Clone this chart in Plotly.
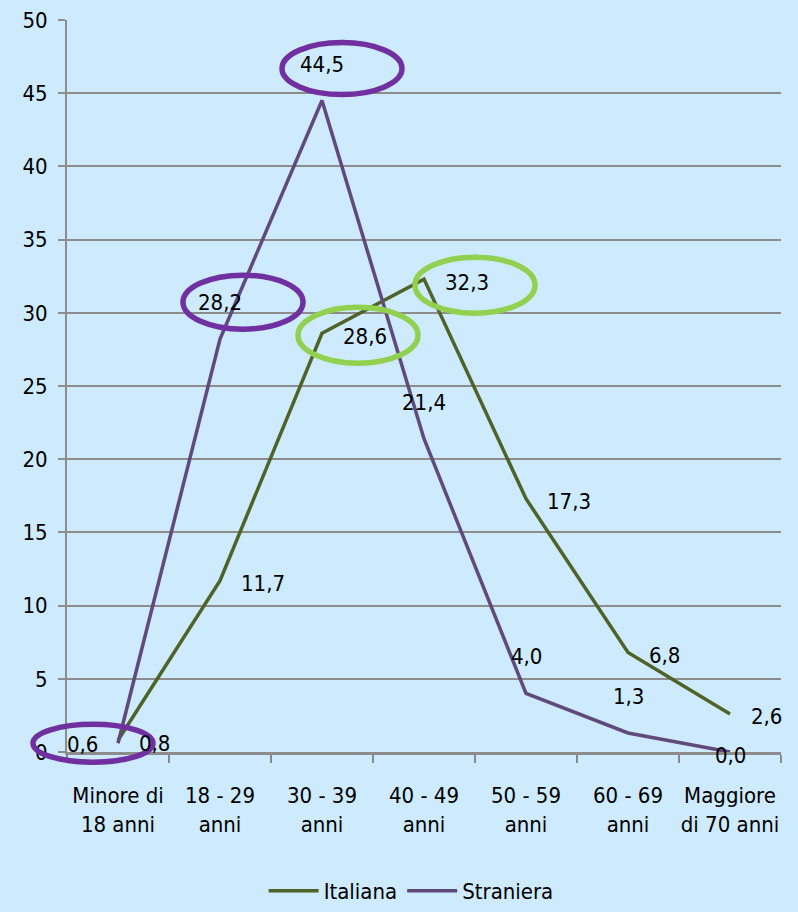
import plotly.graph_objects as go

# Age classes and percentage shares by nationality
categories = ["Minore di<br>18 anni", "18 - 29<br>anni", "30 - 39<br>anni", "40 - 49<br>anni",
              "50 - 59<br>anni", "60 - 69<br>anni", "Maggiore<br>di 70 anni"]
italiana = [0.8, 11.7, 28.6, 32.3, 17.3, 6.8, 2.6]
straniera = [0.6, 28.2, 44.5, 21.4, 4.0, 1.3, 0.0]
y_ticks = [0, 5, 10, 15, 20, 25, 30, 35, 40, 45, 50]
Y_MAX = 50

# Label placement per point
ita_label_pos = ["right"] * 7
str_label_pos = ["left", "top", "top", "top", "top", "top", "center"]

# Highlighted values: (series, index, colour, centre offset in px, half height in px)
highlights = [
    ("straniera", 0, "#7030A0", (-25, 0), 19),
    ("straniera", 1, "#7030A0", (23, 37), 27),
    ("straniera", 2, "#7030A0", (20, 32), 26),
    ("italiana", 2, "#92D050", (36, -2), 28),
    ("italiana", 3, "#92D050", (51, -6), 28),
]

FONT = "DejaVu Sans Condensed, DejaVu Sans, sans-serif"
FS = 22
GREEN = "#4F6228"
PURPLE = "#604A7B"
BG = "#CDEBFC"
GRID = "#8C8C8C"

fig = go.Figure()
fig.add_trace(go.Scatter(x=categories, y=italiana, mode="lines", name="Italiana",
                         line=dict(color=GREEN, width=3.5)))
fig.add_trace(go.Scatter(x=categories, y=straniera, mode="lines", name="Straniera",
                         line=dict(color=PURPLE, width=3.5)))


def fmt(v):
    return f"{v:.1f}".replace(".", ",")


annotations = []
for series, positions in ((italiana, ita_label_pos), (straniera, str_label_pos)):
    for i, (v, pos) in enumerate(zip(series, positions)):
        a = dict(x=i, y=v, xref="x", yref="y", text=fmt(v), showarrow=False,
                 font=dict(family=FONT, size=FS, color="#000000"))
        if pos == "right":
            a.update(xanchor="left", yanchor="middle", xshift=19, yshift=-3)
        elif pos == "left":
            a.update(xanchor="right", yanchor="middle", xshift=-18, yshift=-1)
        elif pos == "top":
            a.update(xanchor="center", yanchor="bottom", yshift=22)
        else:
            a.update(xanchor="center", yanchor="middle", yshift=-3)
        annotations.append(a)

# Ellipses are anchored on the data point in paper space so they are not
# clipped by the plotting area.
n = len(categories)
shapes = []
for series, idx, color, (dx, dy), ry in highlights:
    v = italiana[idx] if series == "italiana" else straniera[idx]
    rx = 60
    shapes.append(dict(type="circle", xref="paper", yref="paper",
                       xsizemode="pixel", ysizemode="pixel",
                       xanchor=(idx + 0.5) / n, yanchor=v / Y_MAX,
                       x0=dx - rx, x1=dx + rx, y0=dy - ry, y1=dy + ry,
                       line=dict(color=color, width=5.5), layer="above"))

fig.update_layout(
    width=798, height=912,
    margin=dict(l=67, r=17, t=20, b=160, autoexpand=False),
    paper_bgcolor=BG, plot_bgcolor=BG,
    font=dict(family=FONT, size=FS, color="#000000"),
    showlegend=True,
    legend=dict(orientation="h", x=0.482, xanchor="center",
                yref="container", y=-0.012, yanchor="bottom",
                font=dict(size=FS), bgcolor="rgba(0,0,0,0)", itemwidth=50,
                tracegroupgap=0),
    annotations=annotations,
    shapes=shapes,
)
fig.update_xaxes(type="category", range=[-0.5, n - 0.5], tickson="boundaries",
                 ticks="outside", ticklen=8, tickwidth=2, tickcolor=GRID,
                 showline=True, linecolor=GRID, linewidth=3,
                 showgrid=False, ticklabelstandoff=22, tickangle=0, automargin=False,
                 tickfont=dict(size=FS))
fig.update_yaxes(range=[0, Y_MAX], tickvals=y_ticks, ticks="outside", ticklen=7, tickwidth=2,
                 tickcolor=GRID, showline=True, linecolor=GRID, linewidth=2,
                 showgrid=True, gridcolor=GRID, gridwidth=2, zeroline=False,
                 ticklabelstandoff=6, automargin=False, tickfont=dict(size=FS))

fig.write_html("out.html")
